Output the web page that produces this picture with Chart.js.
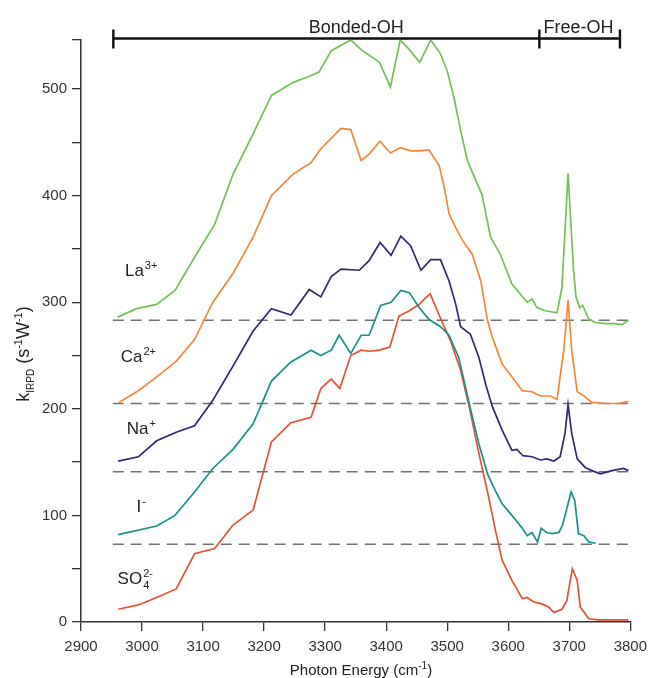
<!DOCTYPE html>
<html>
<head>
<meta charset="utf-8">
<script src="https://cdn.jsdelivr.net/npm/chart.js@4.4.1/dist/chart.umd.min.js"></script>
<style>
  html, body { margin: 0; padding: 0; background: #fff; }
  #wrap { width: 654px; height: 678px; }
</style>
</head>
<body>
<div id="wrap"><canvas id="irpd-chart" width="654" height="678"></canvas></div>
<script>
// photon energy (cm-1) and k_IRPD for each salt
const laX = [2960, 2991, 3024, 3054, 3089, 3119, 3149, 3182, 3212, 3247, 3274, 3290, 3310, 3342, 3359, 3389, 3407, 3423, 3438, 3455, 3473, 3489, 3500, 3511, 3522, 3533, 3547, 3557, 3571, 3587, 3606, 3631, 3639, 3647, 3661, 3680, 3688, 3698, 3707, 3711, 3717, 3722, 3732, 3743, 3759, 3775, 3786, 3797];
const laY = [286, 294, 298, 311, 345, 373, 420, 458, 494, 506, 512, 516, 536, 546, 537, 525, 502, 546, 537, 525, 546, 533, 517, 492, 461, 433, 414, 401, 361, 345, 317, 300, 303, 295, 292, 290, 314, 421, 330, 305, 295, 297, 284, 281, 280, 280, 279, 283];

const caX = [2962, 2994, 3024, 3055, 3086, 3116, 3149, 3182, 3212, 3247, 3277, 3293, 3326, 3342, 3359, 3372, 3390, 3407, 3423, 3440, 3454, 3470, 3487, 3495, 3503, 3514, 3525, 3541, 3555, 3566, 3574, 3590, 3606, 3623, 3639, 3653, 3669, 3680, 3691, 3698, 3704, 3713, 3724, 3737, 3759, 3781, 3797];
const caY = [206, 217, 230, 244, 265, 300, 327, 361, 400, 420, 431, 444, 463, 462, 433, 439, 451, 440, 445, 442, 442, 443, 428, 408, 383, 370, 358, 345, 320, 283, 267, 242, 230, 217, 216, 212, 212, 209, 255, 302, 255, 216, 212, 206, 205, 205, 207];

const naX = [2961, 2994, 3024, 3056, 3086, 3116, 3149, 3182, 3212, 3244, 3274, 3293, 3310, 3326, 3356, 3372, 3390, 3408, 3424, 3440, 3457, 3473, 3489, 3503, 3514, 3522, 3538, 3552, 3563, 3574, 3590, 3606, 3614, 3624, 3639, 3653, 3663, 3675, 3685, 3693, 3698, 3704, 3713, 3726, 3737, 3751, 3770, 3789, 3797];
const naY = [151, 155, 170, 178, 184, 208, 240, 273, 294, 288, 312, 305, 324, 331, 330, 339, 356, 344, 362, 353, 330, 340, 340, 320, 298, 277, 270, 248, 223, 202, 180, 161, 162, 156, 155, 152, 153, 151, 155, 177, 204, 177, 153, 145, 142, 139, 142, 144, 142];

const iX = [2961, 3024, 3054, 3086, 3116, 3149, 3182, 3212, 3244, 3277, 3293, 3310, 3323, 3342, 3359, 3372, 3391, 3408, 3424, 3438, 3454, 3470, 3489, 3503, 3519, 3536, 3552, 3566, 3579, 3590, 3606, 3623, 3631, 3639, 3648, 3654, 3663, 3672, 3683, 3689, 3698, 3703, 3709, 3715, 3724, 3732, 3743];
const iY = [82, 90, 100, 122, 144, 162, 186, 226, 244, 255, 250, 255, 269, 252, 269, 269, 297, 300, 311, 309, 295, 284, 277, 269, 248, 205, 167, 139, 123, 111, 100, 88, 81, 84, 75, 88, 84, 83, 84, 91, 111, 122, 114, 83, 81, 75, 74];

const so4X = [2961, 2994, 3024, 3056, 3086, 3119, 3149, 3182, 3198, 3212, 3244, 3277, 3293, 3310, 3324, 3342, 3359, 3372, 3389, 3406, 3421, 3438, 3454, 3472, 3489, 3506, 3522, 3536, 3552, 3568, 3579, 3590, 3606, 3623, 3631, 3641, 3655, 3666, 3675, 3688, 3696, 3705, 3713, 3718, 3732, 3748, 3770, 3792, 3797];
const so4Y = [12, 16, 23, 31, 64, 69, 91, 105, 139, 169, 187, 192, 219, 228, 219, 250, 255, 254, 255, 258, 287, 292, 298, 308, 285, 263, 236, 202, 158, 117, 86, 58, 39, 22, 23, 19, 17, 14, 9, 12, 20, 50, 39, 14, 3, 2, 2, 2, 2];

// dashed offset baselines (La, Ca, Na, I)
const baselineY = [283, 205, 141, 73];
const baselineX = [2952, 3800];

const xTicks = [2900, 3000, 3100, 3200, 3300, 3400, 3500, 3600, 3700, 3800];
const yTicks = [0, 50, 100, 150, 200, 250, 300, 350, 400, 450, 500, 546];

// Bonded-OH / Free-OH bracket
const bracketX = [2953, 3651, 3783];
const regionNames = ['Bonded-OH', 'Free-OH'];
const regionLabelX = [3351, 3715];

// ion labels: base text, subscript, superscript, position
const ionBase = ['La', 'Ca', 'Na', 'I', 'SO'];
const ionSub = ['', '', '', '', '4'];
const ionSup = ['3+', '2+', '+', '-', '2-'];
const ionLabelX = [2972, 2965, 2975, 2991, 2960];
const ionLabelY = [330, 250, 182, 109, 41];

const FONT = '"Liberation Sans", Arial, sans-serif';
const toPts = (xs, ys) => xs.map((v, i) => ({ x: v, y: ys[i] }));

const series = [
  { label: 'La3+', x: laX, y: laY, color: '#72c257' },
  { label: 'Ca2+', x: caX, y: caY, color: '#f5873c' },
  { label: 'Na+', x: naX, y: naY, color: '#2d2878' },
  { label: 'I-', x: iX, y: iY, color: '#19918c' },
  { label: 'SO4 2-', x: so4X, y: so4Y, color: '#eb5032' }
];

const datasets = series.map(s => ({
  label: s.label,
  data: toPts(s.x, s.y),
  borderColor: s.color,
  borderWidth: 1.7,
  pointRadius: 0,
  tension: 0,
  fill: false
}));

baselineY.forEach(v => {
  datasets.push({
    label: 'baseline',
    data: toPts(baselineX, [v, v]),
    borderColor: '#707070',
    borderWidth: 1.5,
    borderDash: [11, 7],
    pointRadius: 0,
    fill: false
  });
});

// draws a run of text pieces with sub/superscripts, returns width
function richText(ctx, parts, x, y, measureOnly) {
  let cx = x;
  parts.forEach(p => {
    ctx.font = p.size + 'px ' + FONT;
    if (!measureOnly) ctx.fillText(p.t, cx, y + (p.dy || 0));
    cx += ctx.measureText(p.t).width;
  });
  return cx - x;
}

const annotations = {
  id: 'annotations',
  afterDraw(chart) {
    const { ctx, scales: { x, y } } = chart;
    ctx.save();
    ctx.fillStyle = '#222';
    ctx.textBaseline = 'alphabetic';

    // bracket
    const by = y.getPixelForValue(yTicks[yTicks.length - 1]) - 1.5;
    ctx.strokeStyle = '#111';
    ctx.lineWidth = 2.4;
    ctx.beginPath();
    ctx.moveTo(x.getPixelForValue(bracketX[0]), by);
    ctx.lineTo(x.getPixelForValue(bracketX[2]), by);
    bracketX.forEach(v => {
      const px = x.getPixelForValue(v);
      ctx.moveTo(px, by - 9);
      ctx.lineTo(px, by + 10);
    });
    ctx.stroke();

    ctx.font = '18px ' + FONT;
    ctx.textAlign = 'center';
    regionNames.forEach((n, i) => ctx.fillText(n, x.getPixelForValue(regionLabelX[i]), by - 6));

    // ion labels
    ctx.textAlign = 'left';
    ionBase.forEach((b, i) => {
      const px = x.getPixelForValue(ionLabelX[i]);
      const py = y.getPixelForValue(ionLabelY[i]) + 6;
      ctx.font = '17px ' + FONT;
      ctx.fillText(b, px, py);
      const w = ctx.measureText(b).width;
      ctx.font = '11px ' + FONT;
      if (ionSub[i]) ctx.fillText(ionSub[i], px + w + 1, py + 5);
      ctx.fillText(ionSup[i], px + w + 1, py - 7);
    });

    // x title
    const xParts = [
      { t: 'Photon Energy (cm', size: 15 },
      { t: '-1', size: 10, dy: -6 },
      { t: ')', size: 15 }
    ];
    const xw = richText(ctx, xParts, 0, 0, true);
    richText(ctx, xParts, 361 - xw / 2, 675);

    // y title (rotated)
    const yParts = [
      { t: 'k', size: 18 },
      { t: 'IRPD', size: 10, dy: 5 },
      { t: ' (s', size: 18 },
      { t: '-1', size: 11, dy: -7 },
      { t: 'W', size: 18 },
      { t: '-1', size: 11, dy: -7 },
      { t: ')', size: 18 }
    ];
    const yw = richText(ctx, yParts, 0, 0, true);
    ctx.translate(29, 354);
    ctx.rotate(-Math.PI / 2);
    richText(ctx, yParts, -yw / 2, 0);
    ctx.restore();
  }
};

const config = {
  type: 'line',
  data: { datasets },
  options: {
    responsive: false,
    animation: false,
    events: [],
    layout: { padding: { top: 40, right: 22, left: 0, bottom: 0 } },
    plugins: {
      legend: { display: false },
      tooltip: { enabled: false }
    },
    scales: {
      x: {
        type: 'linear',
        min: 2900,
        max: 3800,
        afterFit: s => { s.height = 56; },
        afterBuildTicks: s => { s.ticks = xTicks.map(v => ({ value: v })); },
        border: { color: '#333', width: 1.5 },
        grid: { drawOnChartArea: false, drawTicks: true, tickLength: 9, color: '#333', lineWidth: 1.3 },
        ticks: {
          color: '#333',
          padding: 7,
          maxRotation: 0,
          font: { family: FONT, size: 15 },
          callback: v => String(v)
        }
      },
      y: {
        type: 'linear',
        min: 0,
        max: 546,
        afterFit: s => { s.width = 81; },
        afterBuildTicks: s => { s.ticks = yTicks.map(v => ({ value: v })); },
        border: { color: '#333', width: 1.5 },
        grid: { drawOnChartArea: false, drawTicks: true, tickLength: 9, color: '#333', lineWidth: 1.3 },
        ticks: {
          color: '#333',
          padding: 5,
          font: { family: FONT, size: 15 },
          callback: v => (v % 100 === 0 ? String(v) : '')
        }
      }
    }
  },
  plugins: [annotations]
};

new Chart(document.getElementById('irpd-chart').getContext('2d'), config);
</script>
</body>
</html>
